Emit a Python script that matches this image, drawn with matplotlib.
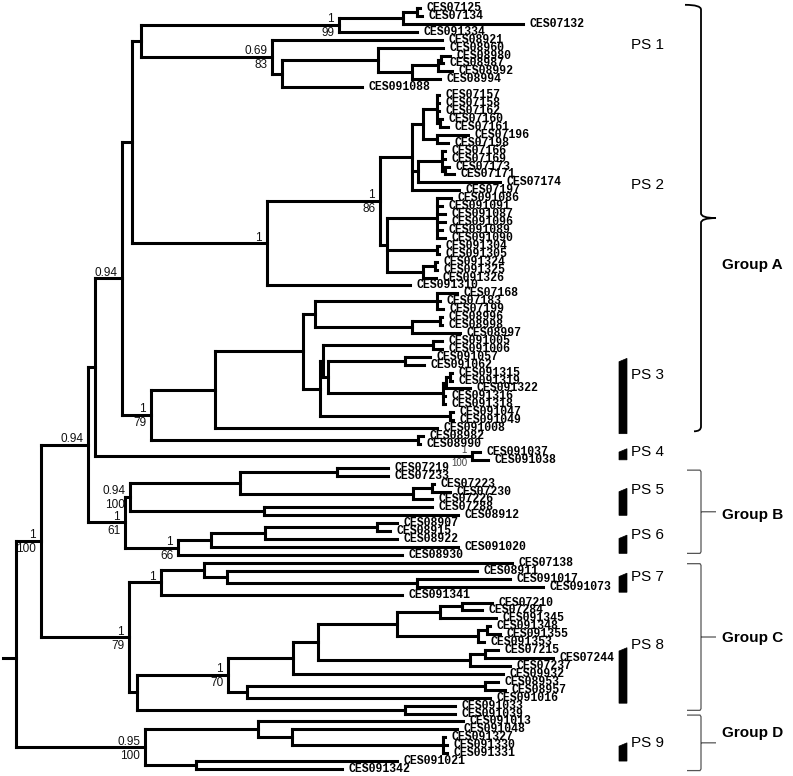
import matplotlib.pyplot as plt
from matplotlib.collections import LineCollection
from matplotlib.path import Path
from matplotlib.patches import PathPatch, Polygon

# =========================
# TREE DATA
# depth = distance from the left edge (tree units)
# =========================
ROOT_STUB = 3
ROOT_ROW = 82.0   # the root stub sits below the midpoint in the original figure

# internal nodes: (name, parent, depth)
NODES_BACKBONE = [
    ("root", None, 16), ("abc", "root", 41), ("n88", "abc", 88), ("n95", "n88", 95),
    ("n122", "n95", 122), ("n132", "n122", 132), ("n141", "n132", 141),
]
NODES_PS1 = [
    ("n339", "n141", 339), ("n403", "n339", 403), ("n417", "n403", 417),
    ("n272", "n141", 272), ("n282", "n272", 282), ("n378", "n282", 378),
    ("n412", "n378", 412), ("n438", "n412", 438), ("n441", "n438", 441),
]
NODES_PS2 = [
    ("ps2", "n132", 267), ("n380", "ps2", 380), ("n1", "n380", 412), ("a", "n1", 423),
    ("a1", "a", 437), ("a1b", "a1", 440), ("a2", "a", 437), ("b", "n1", 418),
    ("b1", "b", 442), ("b1b", "b1", 445), ("n387", "n380", 387), ("c1", "n387", 437),
    ("c2", "n387", 437), ("c3", "n387", 423), ("c3a", "c3", 435),
]
NODES_PS3 = [
    ("n151", "n122", 151), ("n215", "n151", 215), ("n303", "n215", 303),
    ("n315", "n303", 315), ("n437", "n315", 437), ("n412b", "n315", 412),
    ("n440", "n412b", 440), ("x", "n303", 320), ("y", "x", 323), ("n433", "y", 433),
    ("n328", "y", 328), ("n405", "n328", 405), ("n443", "n328", 443),
    ("n446", "n443", 446), ("n450", "n446", 450), ("n450b", "x", 450),
    ("n418", "n151", 418), ("n472", "n95", 472),
]
NODES_B = [
    ("grpb", "n88", 125), ("n130", "grpb", 130), ("n240", "n130", 240),
    ("n337", "n240", 337), ("n413", "n240", 413), ("n432", "n413", 432),
    ("n264", "n130", 264), ("n178", "grpb", 178), ("n211", "n178", 211),
    ("n265", "n211", 265), ("n377", "n265", 377),
]
NODES_C = [
    ("grpc", "abc", 129), ("n161", "grpc", 161), ("n204", "n161", 204),
    ("n227", "n204", 227), ("n417c", "n227", 417), ("n137", "grpc", 137),
    ("n228", "n137", 228), ("n293", "n228", 293), ("n318", "n293", 318),
    ("n397", "n318", 397), ("n440c", "n397", 440), ("n462", "n440c", 462),
    ("n478", "n397", 478), ("n487", "n478", 487), ("n470", "n318", 470),
    ("n485", "n470", 485), ("n247", "n228", 247), ("n485b", "n247", 485),
    ("n405c", "n137", 405),
]
NODES_D = [
    ("grpd", "root", 145), ("n258", "grpd", 258), ("n292", "n258", 292),
    ("n443d", "n292", 443), ("n196", "grpd", 196),
]

# tips in display order: (label, parent, depth)
TIPS_PS1 = [
    ("CES07125", "n417", 420), ("CES07134", "n417", 422), ("CES07132", "n403", 523),
    ("CES091334", "n339", 417), ("CES08921", "n272", 442), ("CES08960", "n378", 443),
    ("CES08980", "n441", 450), ("CES08987", "n441", 443), ("CES08992", "n438", 452),
    ("CES08994", "n412", 440), ("CES091088", "n282", 362),
]
TIPS_PS2 = [
    ("CES07157", "a1", 439), ("CES07158", "a1", 439), ("CES07162", "a1", 439),
    ("CES07160", "a1b", 442), ("CES07161", "a1b", 448), ("CES07196", "a2", 468),
    ("CES07198", "a2", 448), ("CES07166", "b1", 445), ("CES07169", "b1", 445),
    ("CES07173", "b1b", 449), ("CES07171", "b1b", 454), ("CES07174", "b", 500),
    ("CES07197", "n1", 459), ("CES091086", "c1", 451), ("CES091091", "c1", 442),
    ("CES091087", "c1", 445), ("CES091096", "c1", 445), ("CES091089", "c1", 442),
    ("CES091090", "c1", 445), ("CES091304", "c2", 439), ("CES091305", "c2", 439),
    ("CES091324", "c3a", 437), ("CES091325", "c3a", 437), ("CES091326", "c3", 436),
    ("CES091310", "ps2", 410),
]
TIPS_PS3 = [
    ("CES07168", "n437", 457), ("CES07183", "n437", 440), ("CES07199", "n437", 443),
    ("CES08996", "n440", 442), ("CES08998", "n440", 442), ("CES08997", "n412b", 460),
    ("CES091005", "n433", 442), ("CES091006", "n433", 442), ("CES091057", "n405", 430),
    ("CES091062", "n405", 424), ("CES091315", "n450", 452), ("CES091319", "n450", 452),
    ("CES091322", "n446", 470), ("CES091316", "n443", 445), ("CES091318", "n443", 445),
    ("CES091047", "n450b", 453), ("CES091049", "n450b", 453), ("CES091008", "n215", 437),
    ("CES08982", "n418", 423), ("CES08990", "n418", 420),
    ("CES091037", "n472", 480), ("CES091038", "n472", 488),
]
TIPS_B = [
    ("CES07219", "n337", 388), ("CES07233", "n337", 388), ("CES07223", "n432", 434),
    ("CES07230", "n432", 450), ("CES07226", "n413", 432), ("CES07288", "n264", 432),
    ("CES08912", "n264", 458), ("CES08907", "n377", 397), ("CES08915", "n377", 390),
    ("CES08922", "n265", 397), ("CES091020", "n211", 458), ("CES08930", "n178", 402),
]
TIPS_C = [
    ("CES07138", "n204", 512), ("CES08911", "n227", 477), ("CES091017", "n417c", 510),
    ("CES091073", "n417c", 543), ("CES091341", "n161", 402), ("CES07210", "n462", 492),
    ("CES07284", "n462", 482), ("CES091345", "n440c", 496), ("CES091348", "n487", 490),
    ("CES091355", "n487", 500), ("CES091353", "n478", 484), ("CES07215", "n485", 498),
    ("CES07244", "n485", 553), ("CES07237", "n470", 510), ("CES09932", "n293", 503),
    ("CES08953", "n485b", 498), ("CES08957", "n485b", 505), ("CES091016", "n247", 490),
    ("CES091033", "n405c", 455), ("CES091039", "n405c", 455),
]
TIPS_D = [
    ("CES091013", "n258", 463), ("CES091048", "n292", 457), ("CES091327", "n443d", 445),
    ("CES091330", "n443d", 447), ("CES091331", "n443d", 447), ("CES091021", "n196", 397),
    ("CES091342", "n196", 342),
]

# support values: node -> (posterior, bootstrap)
SUPPORT = {
    "abc": ("1", "100"), "n88": ("0.94", ""), "n122": ("0.94", ""),
    "n339": ("1", "99"), "n272": ("0.69", "83"), "ps2": ("1", ""),
    "n380": ("1", "86"), "n151": ("1", "79"), "grpb": ("1", "61"),
    "n130": ("0.94", "100"), "n178": ("1", "66"), "grpc": ("1", "79"),
    "n161": ("1", ""), "n228": ("1", "70"), "grpd": ("0.95", "100"),
}
SUPPORT_SMALL = {"n472": ("1", "100")}

# annotations (rows in tip units)
PS_LABELS = ["PS 1", "PS 2", "PS 3", "PS 4", "PS 5", "PS 6", "PS 7", "PS 8", "PS 9"]
PS_LABEL_ROWS = [4.7, 22.3, 46.3, 56.0, 60.8, 66.5, 71.8, 80.4, 92.7]
PS_BARS = [(44.2, 53.7), (55.6, 57.0), (60.6, 64.0), (66.5, 68.8),
           (71.3, 73.7), (80.7, 87.7), (92.7, 95.0)]
GROUPS = ["Group A", "Group B", "Group C", "Group D"]
GROUP_SPANS = [(-0.4, 53.4), (58.3, 68.8), (70.1, 88.6), (89.2, 96.2)]
GROUP_LABEL_ROWS = [32.4, 63.9, 79.5, 91.5]

ROW_PX = 7.927
TOP_PX = 8


def build_tree():
    nodes = {}
    for table in (NODES_BACKBONE, NODES_PS1, NODES_PS2, NODES_PS3, NODES_B, NODES_C, NODES_D):
        for name, parent, depth in table:
            nodes[name] = {"parent": parent, "x": depth, "kids": []}
    tips = TIPS_PS1 + TIPS_PS2 + TIPS_PS3 + TIPS_B + TIPS_C + TIPS_D
    for i, (name, parent, depth) in enumerate(tips):
        nodes[name] = {"parent": parent, "x": depth, "kids": [], "y": i}
    for name, nd in nodes.items():
        if nd["parent"]:
            nodes[nd["parent"]]["kids"].append(name)

    def place(name):
        nd = nodes[name]
        if "y" not in nd:
            ys = [place(k) for k in nd["kids"]]
            nd["y"] = (min(ys) + max(ys)) / 2
            nd["span"] = (min(ys), max(ys))
        return nd["y"]

    place("root")
    return nodes, tips


nodes, tips = build_tree()

fig = plt.figure(figsize=(7.93, 7.76), dpi=100)
ax = fig.add_axes([0, 0, 1, 1])
ax.set_xlim(0, 793)
ax.set_ylim((776 - TOP_PX) / ROW_PX, -TOP_PX / ROW_PX)
ax.axis("off")

# ---- branches ----
segs = []
for name, nd in nodes.items():
    if nd["parent"]:
        px = nodes[nd["parent"]]["x"]
        segs.append([(px, nd["y"]), (nd["x"], nd["y"])])
    else:
        segs.append([(ROOT_STUB, ROOT_ROW), (nd["x"], ROOT_ROW)])
    if nd["kids"]:
        y0, y1 = nd["span"]
        segs.append([(nd["x"], y0), (nd["x"], y1)])
ax.add_collection(LineCollection(segs, colors="black", linewidths=2.2,
                                 capstyle="projecting", joinstyle="miter"))

# ---- tip labels ----
for name, parent, depth in tips:
    nd = nodes[name]
    ax.annotate(name, (nd["x"], nd["y"]), xytext=(5, 0), textcoords="offset points",
                ha="left", va="center", fontsize=8.3, fontweight="bold",
                family="Liberation Mono")


# ---- support values ----
def put_support(table, size, color):
    for name, (top, bot) in table.items():
        nd = nodes[name]
        if top:
            ax.annotate(top, (nd["x"], nd["y"]), xytext=(-3.5, 1.8), textcoords="offset points",
                        ha="right", va="baseline", fontsize=size, color=color,
                        family="Liberation Sans")
        if bot:
            ax.annotate(bot, (nd["x"], nd["y"]), xytext=(-3.5, -1.8), textcoords="offset points",
                        ha="right", va="top", fontsize=size, color=color,
                        family="Liberation Sans")


put_support(SUPPORT, 8.5, "#111111")
put_support(SUPPORT_SMALL, 7, "#444444")

# ---- PS bars and labels ----
for y0, y1 in PS_BARS:
    ax.add_patch(Polygon([(619, y1), (627, y1), (627, y0), (619, y0 + 0.42)],
                         closed=True, facecolor="black", edgecolor="black", lw=0.5))
for lab, row in zip(PS_LABELS, PS_LABEL_ROWS):
    ax.text(631, row, lab, ha="left", va="center", fontsize=11, family="Liberation Sans")


# ---- group braces ----
def brace(y0, y1, lw, color, curly):
    ym = (y0 + y1) / 2
    r = 0.6
    xs, xt = 701, 716
    if curly:
        verts = [(685, y0), (xs, y0), (xs, y0 + r), (xs, ym - r), (xs, ym), (xt, ym),
                 (xs, ym), (xs, ym + r), (xs, y1 - r), (xs, y1), (694, y1)]
        codes = [Path.MOVETO, Path.CURVE3, Path.CURVE3, Path.LINETO, Path.CURVE3, Path.CURVE3,
                 Path.CURVE3, Path.CURVE3, Path.LINETO, Path.CURVE3, Path.CURVE3]
    else:
        verts = [(687, y0), (xs - 1, y0), (xs, y0 + 0.2), (xs, y1 - 0.2), (xs - 1, y1), (687, y1),
                 (xs, ym), (xt, ym)]
        codes = [Path.MOVETO, Path.LINETO, Path.LINETO, Path.LINETO, Path.LINETO, Path.LINETO,
                 Path.MOVETO, Path.LINETO]
    ax.add_patch(PathPatch(Path(verts, codes), facecolor="none", edgecolor=color, lw=lw))


for i, (lab, (y0, y1), row) in enumerate(zip(GROUPS, GROUP_SPANS, GROUP_LABEL_ROWS)):
    if i == 0:
        brace(y0, y1, 1.3, "black", True)
    else:
        brace(y0, y1, 0.9, "#555555", False)
    ax.text(722, row, lab, ha="left", va="center", fontsize=11, fontweight="bold",
            family="Liberation Sans")

fig.savefig("out.png", dpi=100)
